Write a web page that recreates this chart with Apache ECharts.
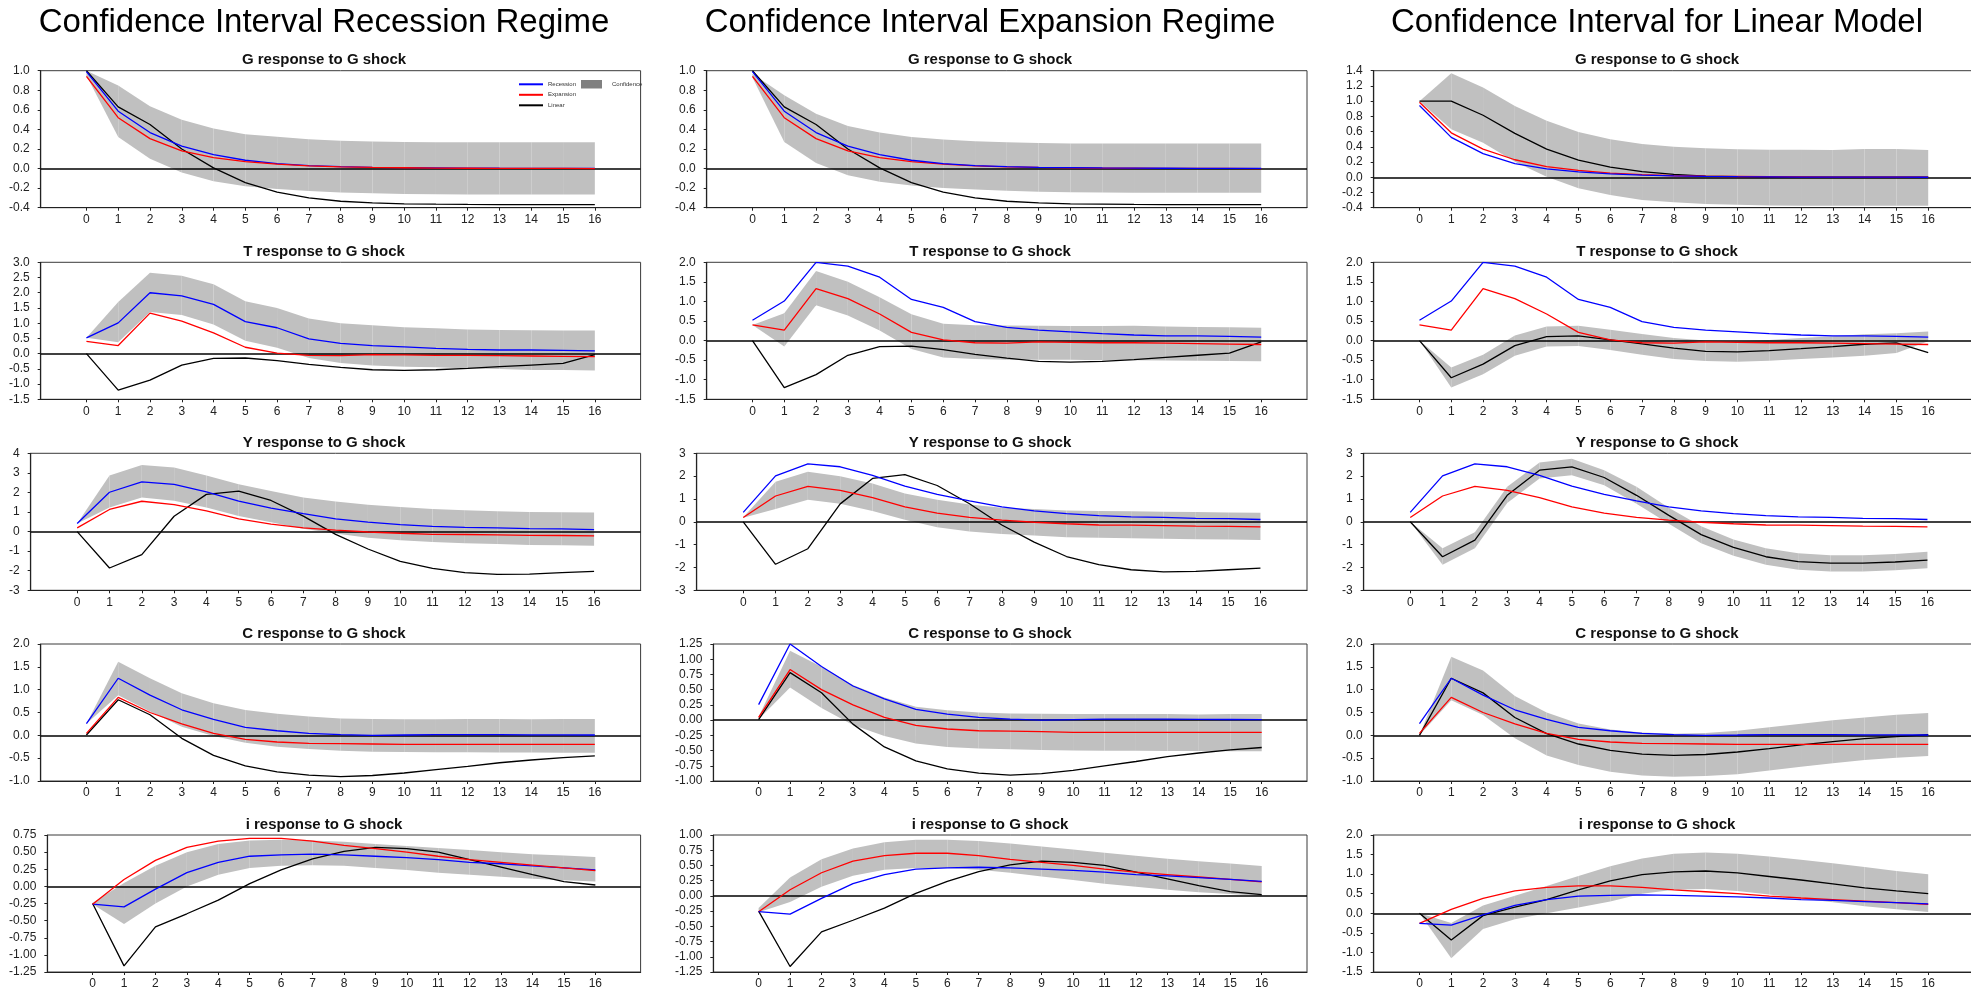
<!DOCTYPE html>
<html>
<head>
<meta charset="utf-8">
<script src="https://cdn.jsdelivr.net/npm/echarts@6/dist/echarts.min.js"></script>
<style>
html,body{margin:0;padding:0;background:#ffffff;}
#chart{width:1971px;height:991px;}
</style>
</head>
<body>
<div id="chart"></div>
<script>
// ---------- categories / labels ----------
const steps = [0,1,2,3,4,5,6,7,8,9,10,11,12,13,14,15,16];
const colTitles = ['Confidence Interval Recession Regime','Confidence Interval Expansion Regime','Confidence Interval for Linear Model'];
const rowTitles = ['G response to G shock','T response to G shock','Y response to G shock','C response to G shock','i response to G shock'];

// ---------- y-axis ticks per row: [min, max, step, decimals] for columns 1..3 ----------
const yTicksG = [[-0.4,1.0,0.2,1],[-0.4,1.0,0.2,1],[-0.4,1.4,0.2,1]];
const yTicksT = [[-1.5,3.0,0.5,1],[-1.5,2.0,0.5,1],[-1.5,2.0,0.5,1]];
const yTicksY = [[-3,4,1,0],[-3,3,1,0],[-3,3,1,0]];
const yTicksC = [[-1.0,2.0,0.5,1],[-1.0,1.25,0.25,2],[-1.0,2.0,0.5,1]];
const yTicksI = [[-1.25,0.75,0.25,2],[-1.25,1.0,0.25,2],[-1.5,2.0,0.5,1]];

// ---------- impulse responses ----------
const G_rec  = [0.99,0.586,0.368,0.23,0.143,0.085,0.051,0.03,0.02,0.013,0.01,0.007,0.005,0.003,0.002,0.001,0.001];
const G_exp  = [0.943,0.52,0.306,0.18,0.112,0.07,0.045,0.028,0.018,0.012,0.008,0.005,0.003,0.002,0.001,0.001,0.0];
const G_linA = [1.0,0.63,0.45,0.2,0.007,-0.143,-0.24,-0.30,-0.334,-0.35,-0.36,-0.364,-0.367,-0.368,-0.368,-0.368,-0.368];
const G_lin  = [1.0,1.0,0.815,0.577,0.37,0.226,0.134,0.073,0.038,0.016,0.007,0.003,0.001,0,0,0,0];
const G_rec3 = [0.943,0.524,0.31,0.18,0.11,0.07,0.045,0.028,0.018,0.012,0.008,0.005,0.003,0.002,0.001,0.001,0.0];
const G_exp3 = [0.985,0.584,0.37,0.23,0.14,0.09,0.055,0.035,0.02,0.013,0.01,0.007,0.005,0.003,0.002,0.001,0.001];

const T_rec  = [0.52,1.01,2.0,1.9,1.62,1.05,0.85,0.485,0.34,0.265,0.22,0.176,0.143,0.12,0.12,0.11,0.09];
const T_exp  = [0.4,0.265,1.33,1.07,0.68,0.21,0.02,-0.055,-0.066,-0.033,-0.044,-0.055,-0.055,-0.066,-0.077,-0.088,-0.1];
const T_linA = [0,-1.2,-0.87,-0.375,-0.154,-0.143,-0.23,-0.35,-0.45,-0.53,-0.55,-0.53,-0.485,-0.43,-0.375,-0.32,-0.033];
const T_lin  = [0,-0.95,-0.6,-0.13,0.103,0.12,0.017,-0.086,-0.19,-0.274,-0.29,-0.257,-0.206,-0.154,-0.094,-0.06,-0.31];

const Y_rec  = [0.41,2.01,2.54,2.41,2.03,1.56,1.2,0.92,0.65,0.48,0.36,0.27,0.22,0.19,0.15,0.14,0.1];
const Y_exp  = [0.19,1.13,1.55,1.38,1.06,0.65,0.38,0.19,0.07,-0.02,-0.085,-0.14,-0.15,-0.17,-0.19,-0.2,-0.22];
const Y_linA = [0,-1.86,-1.18,0.785,1.9,2.07,1.59,0.79,-0.14,-0.89,-1.52,-1.88,-2.1,-2.19,-2.17,-2.1,-2.03];
const Y_lin  = [0,-1.53,-0.8,1.16,2.26,2.41,1.94,1.16,0.28,-0.56,-1.12,-1.53,-1.74,-1.81,-1.81,-1.76,-1.68];

const C_rec  = [0.255,1.25,0.88,0.56,0.35,0.175,0.1,0.044,0.015,0.0,0.007,0.015,0.015,0.015,0.012,0.01,0.007];
const C_exp  = [0.044,0.83,0.5,0.25,0.044,-0.088,-0.146,-0.175,-0.18,-0.19,-0.2,-0.2,-0.2,-0.2,-0.2,-0.2,-0.2];
const C_linA = [0.007,0.78,0.45,-0.066,-0.44,-0.67,-0.8,-0.87,-0.905,-0.88,-0.825,-0.75,-0.68,-0.6,-0.54,-0.49,-0.45];
const C_lin  = [0,1.25,0.93,0.39,0.036,-0.19,-0.33,-0.41,-0.44,-0.42,-0.365,-0.29,-0.21,-0.14,-0.073,-0.03,0.015];

const I_rec  = [-0.26,-0.3,-0.04,0.2,0.35,0.44,0.46,0.47,0.46,0.44,0.42,0.39,0.35,0.33,0.3,0.27,0.24];
const I_exp  = [-0.26,0.1,0.38,0.57,0.66,0.7,0.7,0.66,0.6,0.55,0.5,0.44,0.39,0.35,0.31,0.27,0.23];
const I_linA = [-0.25,-1.16,-0.59,-0.4,-0.2,0.04,0.24,0.4,0.51,0.57,0.55,0.5,0.39,0.28,0.17,0.07,0.02];
const I_lin  = [0,-0.68,-0.06,0.16,0.35,0.6,0.83,0.99,1.06,1.08,1.03,0.94,0.85,0.75,0.65,0.57,0.5];

// ---------- confidence bands (lower / upper) ----------
// Recession regime
const G_r_lo = [0.95,0.323,0.10,-0.04,-0.13,-0.18,-0.21,-0.23,-0.245,-0.252,-0.26,-0.263,-0.266,-0.266,-0.266,-0.266,-0.266];
const G_r_hi = [1.0,0.85,0.637,0.5,0.41,0.35,0.325,0.30,0.283,0.276,0.272,0.27,0.27,0.27,0.27,0.27,0.27];
const T_r_lo = [0.52,0.375,1.37,1.27,0.96,0.42,0.19,-0.14,-0.31,-0.386,-0.43,-0.45,-0.485,-0.507,-0.54,-0.54,-0.55];
const T_r_hi = [0.52,1.7,2.66,2.56,2.28,1.72,1.5,1.15,1.0,0.93,0.87,0.83,0.79,0.78,0.77,0.76,0.76];
const Y_r_lo = [0.41,1.23,1.74,1.57,1.23,0.8,0.48,0.15,-0.1,-0.31,-0.44,-0.53,-0.6,-0.63,-0.68,-0.7,-0.72];
const Y_r_hi = [0.41,2.87,3.4,3.28,2.87,2.42,2.07,1.74,1.54,1.37,1.25,1.16,1.09,1.04,1.0,0.99,0.97];
const C_r_lo = [0.255,0.88,0.52,0.19,-0.015,-0.16,-0.25,-0.3,-0.335,-0.36,-0.365,-0.37,-0.37,-0.375,-0.375,-0.38,-0.38];
const C_r_hi = [0.255,1.61,1.25,0.92,0.7,0.555,0.47,0.41,0.37,0.36,0.35,0.35,0.36,0.36,0.35,0.36,0.36];
const I_r_lo = [-0.26,-0.55,-0.25,0.0,0.17,0.27,0.3,0.31,0.3,0.27,0.24,0.2,0.17,0.14,0.11,0.09,0.07];
const I_r_hi = [-0.24,0.05,0.3,0.5,0.62,0.67,0.68,0.67,0.65,0.62,0.59,0.56,0.53,0.5,0.47,0.45,0.43];
// Expansion regime
const G_e_lo = [0.93,0.272,0.058,-0.068,-0.136,-0.174,-0.198,-0.215,-0.228,-0.238,-0.242,-0.245,-0.248,-0.248,-0.248,-0.248,-0.248];
const G_e_hi = [0.97,0.75,0.56,0.436,0.368,0.323,0.296,0.28,0.27,0.262,0.255,0.255,0.255,0.255,0.255,0.255,0.255];
const T_e_lo = [0.4,-0.154,0.9,0.643,0.257,-0.214,-0.43,-0.47,-0.49,-0.49,-0.49,-0.5,-0.5,-0.506,-0.515,-0.523,-0.53];
const T_e_hi = [0.4,0.70,1.78,1.5,1.11,0.67,0.43,0.39,0.386,0.377,0.37,0.37,0.377,0.36,0.35,0.343,0.326];
const Y_e_lo = [0.18,0.56,0.97,0.79,0.47,0.09,-0.24,-0.43,-0.53,-0.6,-0.68,-0.7,-0.72,-0.74,-0.76,-0.78,-0.8];
const Y_e_hi = [0.2,1.75,2.19,2.0,1.68,1.24,0.97,0.76,0.62,0.56,0.5,0.47,0.46,0.44,0.43,0.41,0.4];
const C_e_lo = [0.016,0.536,0.2,-0.08,-0.263,-0.383,-0.44,-0.465,-0.48,-0.49,-0.5,-0.503,-0.505,-0.507,-0.508,-0.51,-0.51];
const C_e_hi = [0.055,1.14,0.876,0.575,0.37,0.22,0.164,0.126,0.11,0.104,0.1,0.1,0.1,0.1,0.093,0.1,0.1];
const I_e_lo = [-0.27,-0.1,0.15,0.33,0.43,0.46,0.46,0.43,0.38,0.32,0.26,0.2,0.15,0.1,0.06,0.03,0.0];
const I_e_hi = [-0.2,0.3,0.6,0.78,0.88,0.92,0.92,0.9,0.86,0.81,0.76,0.71,0.66,0.61,0.57,0.53,0.49];
// Linear model
const G_l_lo = [1.0,0.63,0.454,0.204,0.007,-0.146,-0.234,-0.3,-0.33,-0.35,-0.362,-0.37,-0.374,-0.374,-0.374,-0.374,-0.374];
const G_l_hi = [1.0,1.365,1.18,0.936,0.743,0.594,0.498,0.437,0.402,0.38,0.367,0.362,0.362,0.358,0.37,0.37,0.358];
const T_l_lo = [0,-1.2,-0.86,-0.386,-0.154,-0.137,-0.24,-0.36,-0.47,-0.52,-0.54,-0.515,-0.47,-0.43,-0.386,-0.317,-0.02];
const T_l_hi = [0,-0.69,-0.36,0.13,0.36,0.377,0.274,0.17,0.069,0.0,-0.017,0.017,0.069,0.11,0.163,0.19,0.23];
const Y_l_lo = [0,-1.88,-1.16,0.82,1.9,2.04,1.6,0.79,-0.09,-0.94,-1.49,-1.88,-2.1,-2.18,-2.18,-2.12,-2.03];
const Y_l_hi = [0,-1.16,-0.46,1.53,2.6,2.76,2.26,1.53,0.62,-0.2,-0.78,-1.16,-1.38,-1.46,-1.46,-1.41,-1.31];
const C_l_lo = [0,0.77,0.445,-0.066,-0.44,-0.65,-0.8,-0.88,-0.905,-0.89,-0.85,-0.77,-0.69,-0.61,-0.54,-0.49,-0.45];
const C_l_hi = [0,1.72,1.42,0.86,0.5,0.26,0.13,0.06,0.036,0.05,0.1,0.175,0.255,0.33,0.39,0.45,0.49];
const I_l_lo = [0,-1.15,-0.4,-0.15,0.0,0.15,0.3,0.5,0.6,0.62,0.57,0.48,0.38,0.28,0.18,0.1,0.03];
const I_l_hi = [0,-0.25,0.2,0.45,0.7,0.95,1.2,1.4,1.52,1.55,1.52,1.45,1.37,1.28,1.18,1.08,1.0];

// ---------- assemble panels (rows x columns) ----------
const panelRows = [
  {ticks:yTicksG, blue:[G_rec,G_rec,G_rec3], red:[G_exp,G_exp,G_exp3], black:[G_linA,G_linA,G_lin], band:[[G_r_lo,G_r_hi],[G_e_lo,G_e_hi],[G_l_lo,G_l_hi]]},
  {ticks:yTicksT, blue:[T_rec,T_rec,T_rec], red:[T_exp,T_exp,T_exp], black:[T_linA,T_linA,T_lin], band:[[T_r_lo,T_r_hi],[T_e_lo,T_e_hi],[T_l_lo,T_l_hi]]},
  {ticks:yTicksY, blue:[Y_rec,Y_rec,Y_rec], red:[Y_exp,Y_exp,Y_exp], black:[Y_linA,Y_linA,Y_lin], band:[[Y_r_lo,Y_r_hi],[Y_e_lo,Y_e_hi],[Y_l_lo,Y_l_hi]]},
  {ticks:yTicksC, blue:[C_rec,C_rec,C_rec], red:[C_exp,C_exp,C_exp], black:[C_linA,C_linA,C_lin], band:[[C_r_lo,C_r_hi],[C_e_lo,C_e_hi],[C_l_lo,C_l_hi]]},
  {ticks:yTicksI, blue:[I_rec,I_rec,I_rec], red:[I_exp,I_exp,I_exp], black:[I_linA,I_linA,I_lin], band:[[I_r_lo,I_r_hi],[I_e_lo,I_e_hi],[I_l_lo,I_l_hi]]}
];

// ---------- layout ----------
const FONT = '"Liberation Sans", Arial, sans-serif';
const colLabelStart = [9, 675, 1342];
const colPlotRight = [640.6, 1307, 1974];
const colCenter = [324, 990, 1657];
const rowTop = [70.7, 262.3, 453.3, 644, 835];
const plotH = 137;
const labelGap = 11;
const tickFont = 12;
const xMin = -1.44, xMax = 17.44;

const mctx = document.createElement('canvas').getContext('2d');
mctx.font = tickFont + 'px "Liberation Sans"';
function tw(s){ return mctx.measureText(s).width; }

function fmt(v, dec){ if (Math.abs(v) < 1e-9) v = 0; return v.toFixed(dec); }

function bandItem(params, api){
  const pts = [
    api.coord([api.value(0), api.value(2)]),
    api.coord([api.value(3), api.value(5)]),
    api.coord([api.value(3), api.value(4)]),
    api.coord([api.value(0), api.value(1)])
  ];
  return {type:'polygon', shape:{points:pts}, style:{fill:'#c0c0c0'}};
}

const grids = [], xAxes = [], yAxes = [], series = [], titles = [];

colTitles.forEach((t, c) => {
  titles.push({text:t, left:colCenter[c], top:6.5, textAlign:'center', padding:0,
    textStyle:{fontFamily:FONT, fontSize:33, fontWeight:'normal', color:'#000'}});
});

const lineOrder = [['black','blue','red'],['black','red','blue'],['black','red','blue']];
const lineMeta = {blue:{name:'Recession', color:'#0000ff'}, red:{name:'Expansion', color:'#ff0000'}, black:{name:'Linear', color:'#000000'}};

panelRows.forEach((row, r) => {
  for (let c = 0; c < 3; c++) {
    const idx = r * 3 + c;
    const [mn, mx, st, dec] = row.ticks[c];
    const n = Math.round((mx - mn) / st);
    let maxW = 0;
    for (let k = 0; k <= n; k++) maxW = Math.max(maxW, tw(fmt(mn + k * st, dec)));
    const left = colLabelStart[c] + maxW + labelGap;

    titles.push({text:rowTitles[r], left:colCenter[c], top:rowTop[r] - 10.5 - 7.5, textAlign:'center', padding:0,
      textStyle:{fontFamily:FONT, fontSize:15, fontWeight:'bold', color:'#111'}});

    grids.push({left:left, top:rowTop[r], width:colPlotRight[c] - left, height:plotH,
      show:true, borderColor:'#3a3a3a', borderWidth:1, backgroundColor:'rgba(0,0,0,0)',
      containLabel:false, outerBoundsMode:'none'});

    xAxes.push({type:'value', gridIndex:idx, min:xMin, max:xMax,
      axisLine:{show:true, onZero:false, lineStyle:{color:'#222', width:1.2}},
      axisTick:{show:true, customValues:steps, length:3, lineStyle:{color:'#222'}},
      axisLabel:{customValues:steps, margin:6, fontSize:tickFont, fontFamily:FONT, color:'#222'},
      splitLine:{show:false}});

    yAxes.push({type:'value', gridIndex:idx, min:mn, max:mx, interval:st,
      axisLine:{show:true, onZero:false, lineStyle:{color:'#222', width:1.2}},
      axisTick:{show:true, length:3, lineStyle:{color:'#222'}},
      axisLabel:{margin:labelGap, fontSize:tickFont, fontFamily:FONT, color:'#222',
        formatter:(v) => fmt(v, dec)},
      splitLine:{show:false}});

    const lo = row.band[c][0], hi = row.band[c][1];
    const segs = [];
    for (let i = 0; i < steps.length - 1; i++) segs.push([steps[i], lo[i], hi[i], steps[i+1], lo[i+1], hi[i+1]]);
    series.push({type:'custom', name:'Confidence', xAxisIndex:idx, yAxisIndex:idx, data:segs,
      renderItem:bandItem, encode:{x:[0,3], y:[1,2,4,5]}, itemStyle:{color:'#c0c0c0'},
      silent:true, z:1, clip:true});

    lineOrder[c].forEach((key, j) => {
      const vals = row[key][c];
      const s = {type:'line', name:lineMeta[key].name, xAxisIndex:idx, yAxisIndex:idx,
        data:vals.map((v, i) => [steps[i], v]), color:lineMeta[key].color,
        lineStyle:{color:lineMeta[key].color, width:1.3}, symbol:'none', showSymbol:false,
        silent:true, z:3 + j};
      if (j === 0) {
        s.markLine = {silent:true, symbol:['none','none'], label:{show:false}, z:2,
          lineStyle:{color:'#000', width:1.5, type:'solid'}, data:[{yAxis:0}], animation:false};
      }
      series.push(s);
    });
  }
});

const option = {
  backgroundColor:'#ffffff',
  animation:false,
  title:titles,
  legend:[
    {data:['Recession','Expansion','Linear'], orient:'vertical', left:514, top:75.8,
      icon:'rect', itemWidth:24, itemHeight:2, itemGap:3.5, selectedMode:false,
      textStyle:{fontFamily:FONT, fontSize:6, lineHeight:7, color:'#333'}},
    {data:[{name:'Confidence', itemStyle:{color:'#808080'}}], orient:'vertical', left:576, top:75,
      icon:'rect', itemWidth:21, itemHeight:8.5, selectedMode:false,
      textStyle:{fontFamily:FONT, fontSize:6, color:'#333', padding:[0,0,0,5]}}
  ],
  grid:grids,
  xAxis:xAxes,
  yAxis:yAxes,
  series:series
};

const chart = echarts.init(document.getElementById('chart'), null, {renderer:'canvas', width:1971, height:991});
chart.setOption(option);
</script>
</body>
</html>
